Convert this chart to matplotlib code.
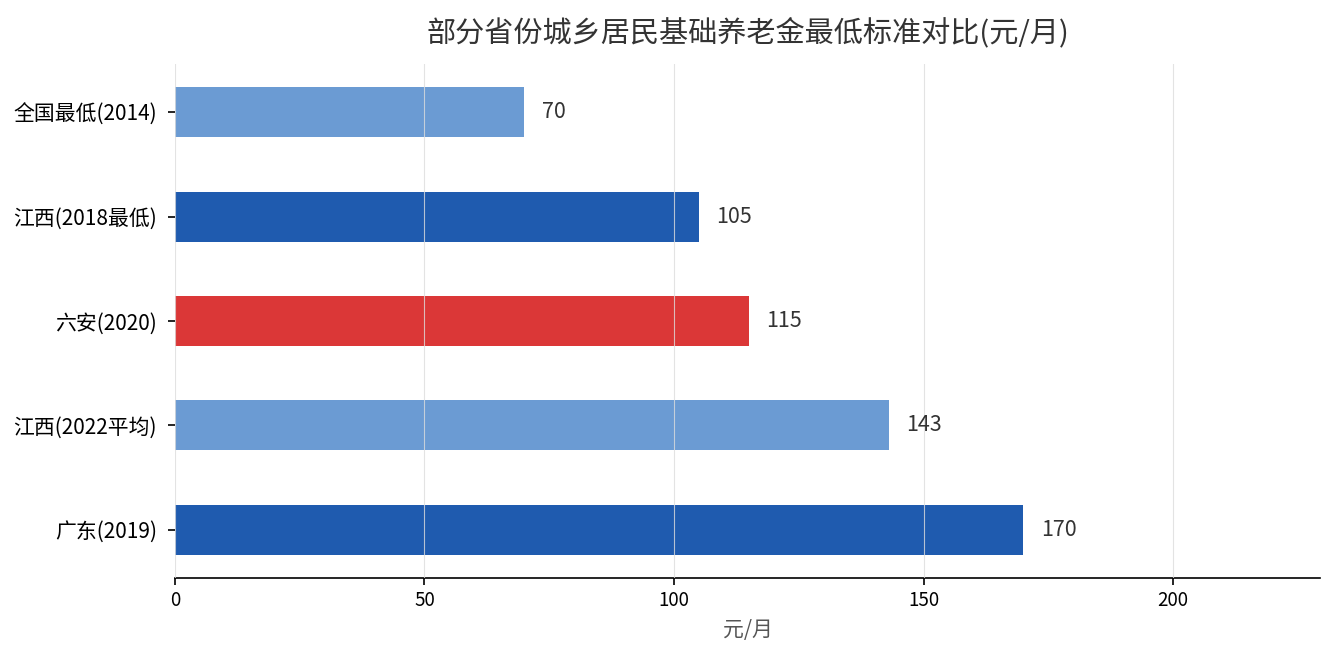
import matplotlib.pyplot as plt

plt.rcParams['font.family'] = ['Noto Sans CJK SC', 'DejaVu Sans']

# Data
categories = ['全国最低(2014)', '江西(2018最低)', '六安(2020)', '江西(2022平均)', '广东(2019)']
values = [70, 105, 115, 143, 170]
colors = ['#6b9bd3', '#1f5baf', '#db3737', '#6b9bd3', '#1f5baf']

fig, ax = plt.subplots(figsize=(13.35, 6.6), dpi=100)
fig.subplots_adjust(left=0.131, right=0.989, top=0.903, bottom=0.124)

y = list(range(len(categories)))
ax.barh(y, values, height=0.48, color=colors, zorder=1)
ax.invert_yaxis()
ax.set_yticks(y)
ax.set_yticklabels(categories, fontsize=15)
ax.tick_params(axis='y', length=5, width=1.2, pad=8)

for yi, v in zip(y, values):
    ax.text(v + 3.5, yi, str(v), va='center', ha='left', fontsize=15.5, color='#333333')

ax.set_xlim(0, 229.5)
ax.set_xticks([0, 50, 100, 150, 200])
ax.tick_params(axis='x', labelsize=13.5, length=5, width=1.2)
ax.xaxis.grid(True, color='#dddddd', linewidth=0.8, alpha=0.8, zorder=3)
ax.set_axisbelow(False)
ax.set_xlabel('元/月', fontsize=15, color='#555555', labelpad=6)
ax.set_title('部分省份城乡居民基础养老金最低标准对比(元/月)', fontsize=21, color='#333333', pad=16)

for side in ['top', 'right', 'left']:
    ax.spines[side].set_visible(False)
ax.spines['bottom'].set_linewidth(1.2)

plt.savefig('out.png', dpi=100)
plt.close()
